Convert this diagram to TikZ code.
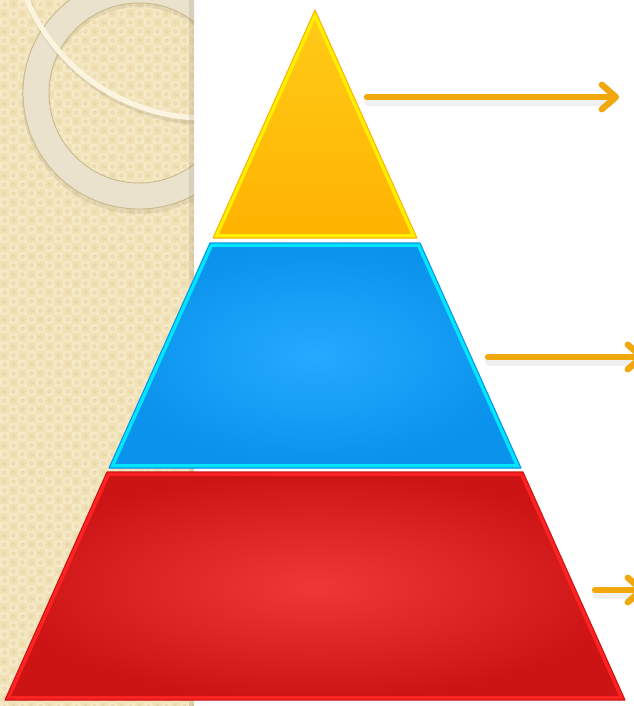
\documentclass[tikz,border=0pt]{standalone}
\usetikzlibrary{arrows.meta, calc}
\definecolor{paper}{HTML}{F1E1B7}
\definecolor{paperlight}{HTML}{F5E8C4}
\definecolor{paperdot}{HTML}{E4D19E}
\definecolor{ringfill}{HTML}{EAE2CD}
\definecolor{ringedge}{HTML}{C8B88C}
\definecolor{cream}{HTML}{FCF4DE}
\definecolor{goldtop}{HTML}{FFCB18}
\definecolor{goldbot}{HTML}{FFB200}
\definecolor{goldrim}{HTML}{FFF000}
\definecolor{skyin}{HTML}{24AAFF}
\definecolor{skyout}{HTML}{0A92EC}
\definecolor{skyrim}{HTML}{00E6FF}
\definecolor{redin}{HTML}{EE3838}
\definecolor{redout}{HTML}{CC1414}
\definecolor{redrim}{HTML}{FF2222}
\definecolor{amber}{HTML}{F0A80C}
\tikzset{
    rim/.style={line width=4.5pt, line join=round}, % inner border of a layer, clipped to it
    edge/.style={line width=0.6pt, line join=round}, % thin outer line of a layer
    pointer/.style={-{Straight Barb[length=8pt, width=14pt, round]}, draw=amber, line width=3.6pt, line cap=round},
    pointershadow/.style={draw=black, opacity=0.06, line width=6pt, line cap=round}
}

\begin{document}
\begin{tikzpicture}[x=0.02cm, y=-0.02cm]

    \useasboundingbox (0,0) rectangle (634,706);
    \clip (0,0) rectangle (634,706);
    \fill[white] (0,0) rectangle (634,706);

    % patterned strip on the left
    \begin{scope}
        \clip (0,0) rectangle (194,706);
        \fill[paper] (0,0) rectangle (194,706);
        \foreach \i in {0,...,21}
            \foreach \j in {0,...,78} {
                \pgfmathparse{int(mod(\i+\j,2))}
                \ifnum\pgfmathresult=0
                    \fill[paperlight] (\i*9, \j*9) rectangle ++(9,9);
                \fi
                \draw[paperdot, line width=0.35pt] (\i*9+4.5, \j*9+4.5) circle (1.7);
            }
        \fill[black, opacity=0.06, even odd rule] (139,97) circle (117) (139,97) circle (90);
        \fill[ringfill, even odd rule] (139,93) circle (116) (139,93) circle (90);
        \draw[ringedge, line width=0.5pt] (139,93) circle (116) (139,93) circle (90);
        \draw[black, opacity=0.08, line width=3.5pt] (207,-71) circle (193);
        \draw[cream, line width=3pt] (205,-75) circle (193);
        \fill[black, opacity=0.08] (189,0) rectangle (194,706);
    \end{scope}

    % pyramid corners
    \coordinate (apex) at (315,10);
    \coordinate (yl) at (213,238);
    \coordinate (yr) at (417,238);
    \coordinate (btl) at (210,243);
    \coordinate (btr) at (420,243);
    \coordinate (bbl) at (109,468);
    \coordinate (bbr) at (521,468);
    \coordinate (rtl) at (107,472);
    \coordinate (rtr) at (523,472);
    \coordinate (rbl) at (5,700);
    \coordinate (rbr) at (625,700);

    % top layer
    \shade[top color=goldtop, bottom color=goldbot] (apex) -- (yr) -- (yl) -- cycle;
    \begin{scope}
        \clip (apex) -- (yr) -- (yl) -- cycle;
        \draw[rim, goldrim] (apex) -- (yr) -- (yl) -- cycle;
    \end{scope}
    \draw[edge, goldbot] (apex) -- (yr) -- (yl) -- cycle;

    % middle layer
    \shade[inner color=skyin, outer color=skyout] (btl) -- (btr) -- (bbr) -- (bbl) -- cycle;
    \begin{scope}
        \clip (btl) -- (btr) -- (bbr) -- (bbl) -- cycle;
        \draw[rim, skyrim] (btl) -- (btr) -- (bbr) -- (bbl) -- cycle;
    \end{scope}
    \draw[edge, skyout] (btl) -- (btr) -- (bbr) -- (bbl) -- cycle;

    % bottom layer
    \shade[inner color=redin, outer color=redout] (rtl) -- (rtr) -- (rbr) -- (rbl) -- cycle;
    \begin{scope}
        \clip (rtl) -- (rtr) -- (rbr) -- (rbl) -- cycle;
        \draw[rim, redrim] (rtl) -- (rtr) -- (rbr) -- (rbl) -- cycle;
    \end{scope}
    \draw[edge, redout] (rtl) -- (rtr) -- (rbr) -- (rbl) -- cycle;

    % arrows
    \coordinate (tailA) at (367,97);
    \coordinate (tipA) at (619,97);
    \coordinate (tailB) at (488,357);
    \coordinate (tipB) at (645,357);
    \coordinate (tailC) at (595,590);
    \coordinate (tipC) at (645,590);

    \draw[pointershadow] ($(tailA)+(2,4)$) -- ($(tipA)+(-8,4)$);
    \draw[pointershadow] ($(tailB)+(2,4)$) -- ($(tipB)+(-8,4)$);
    \draw[pointershadow] ($(tailC)+(2,4)$) -- ($(tipC)+(-8,4)$);
    \draw[pointer] (tailA) -- (tipA);
    \draw[pointer] (tailB) -- (tipB);
    \draw[pointer] (tailC) -- (tipC);

\end{tikzpicture}
\end{document}
